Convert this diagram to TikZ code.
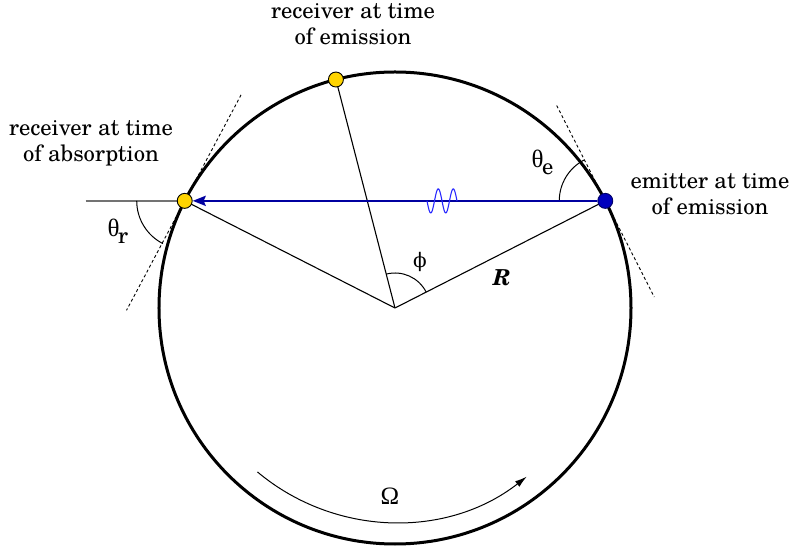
\documentclass[tikz,border=0pt]{standalone}
\usepackage{fontspec}
\setmainfont{texgyreschola}[Extension=.otf, UprightFont=*-regular, BoldFont=*-bold, ItalicFont=*-italic, BoldItalicFont=*-bolditalic]
\newfontfamily\grk{Liberation Serif}
\newfontfamily\grkb{DejaVu Serif}
\usetikzlibrary{arrows.meta,calc}
\definecolor{rayblue}{RGB}{0,0,160}
\definecolor{dotblue}{RGB}{0,0,190}
\definecolor{dotyellow}{RGB}{255,212,0}
\definecolor{wavecol}{RGB}{40,40,255}
\begin{document}
\begin{tikzpicture}[x=1pt,y=1pt,
  rim/.style={line width=3pt},
  spoke/.style={line width=1.1pt},
  tangentline/.style={line width=0.9pt, dash pattern=on 3pt off 2.5pt},
  anglearc/.style={line width=1pt},
  greyray/.style={line width=1.3pt, black!55},
  lbl/.style={font=\fontsize{22.6}{25.7}\selectfont, align=center, inner sep=0pt},
  sym/.style={font=\fontsize{25}{28}\selectfont, inner sep=0pt},
  dotY/.style={circle, draw=black, line width=0.9pt, fill=dotyellow, minimum size=15pt, inner sep=0pt},
  dotB/.style={circle, draw=black!60!blue, line width=0.9pt, fill=dotblue, minimum size=15pt, inner sep=0pt},
  ray/.style={rayblue, line width=2.4pt, -{Stealth[length=13pt,width=10pt,inset=2pt]}},
  wave/.style={wavecol, line width=1.1pt},
  spin/.style={line width=1pt, -{Latex[length=12pt,width=7pt]}}]
\useasboundingbox (-395,-240) rectangle (402,308);
\coordinate (O) at (0,0);
\coordinate (cE) at (27:236);
\coordinate (cA) at (153:236);
\coordinate (cR) at (104.5:236);
\coordinate (L) at ($(cA)+(-99,0)$);
% wheel
\draw[rim] (O) circle[radius=236];
% spokes
\draw[spoke] (O) -- (cA);
\draw[spoke] (O) -- (cE);
\draw[spoke] (O) -- (cR);
% tangents
\draw[tangentline] ($(cE)+(117:107)$) -- ($(cE)+(-63:108)$);
\draw[tangentline] ($(cA)+(62:120)$) -- ($(cA)+(242:124)$);
% grey continuation
\draw[greyray] (L) -- (cA);
% angle arcs
\draw[anglearc] ($(cE)+(180:46)$) arc[start angle=180, end angle=117, radius=46];
\draw[anglearc] ($(cA)+(180:48)$) arc[start angle=180, end angle=243, radius=48];
\draw[anglearc] ($(O)+(27:35)$) arc[start angle=27, end angle=104.5, radius=35];
% rotation
\draw[spin] ($(O)+(230:214)$) arc[start angle=230, end angle=308, radius=214];
% dots
\node[dotB] (E) at (cE) {};
\node[dotY] (A) at (cA) {};
\node[dotY] (Rc) at (cR) {};
% light ray
\draw[ray] (E) -- (A);
\draw[wave] plot[domain=0:30, samples=80, smooth] ({32+\x}, {107.1-12*sin(\x*24)});
% labels
\node[lbl] (labTop) at (-42,283.5) {receiver at time\\of emission};
\node[lbl] (labLeft) at (-304,164.8) {receiver at time\\of absorption};
\node[lbl] (labRight) at (315,113.5) {emitter at time\\of emission};
\node[sym] (thE) at (147.5,146) {{\grk θ}\kern-1.5pt\raisebox{-7pt}{\fontsize{22.6}{25}\selectfont e}};
\node[sym] (thR) at (-277,77) {{\grk θ}\kern-1.5pt\raisebox{-7pt}{\fontsize{22.6}{25}\selectfont r}};
\node[inner sep=0pt, font=\fontsize{20}{24}\selectfont] (phi) at (25,46) {\grkb ϕ};
\node[inner sep=0pt, font=\fontsize{22}{26}\selectfont] (Rlab) at (107,30) {\textbf{\textit{R}}};
\node[sym] (Om) at (-5,-188) {\grk Ω};
\end{tikzpicture}
\end{document}
